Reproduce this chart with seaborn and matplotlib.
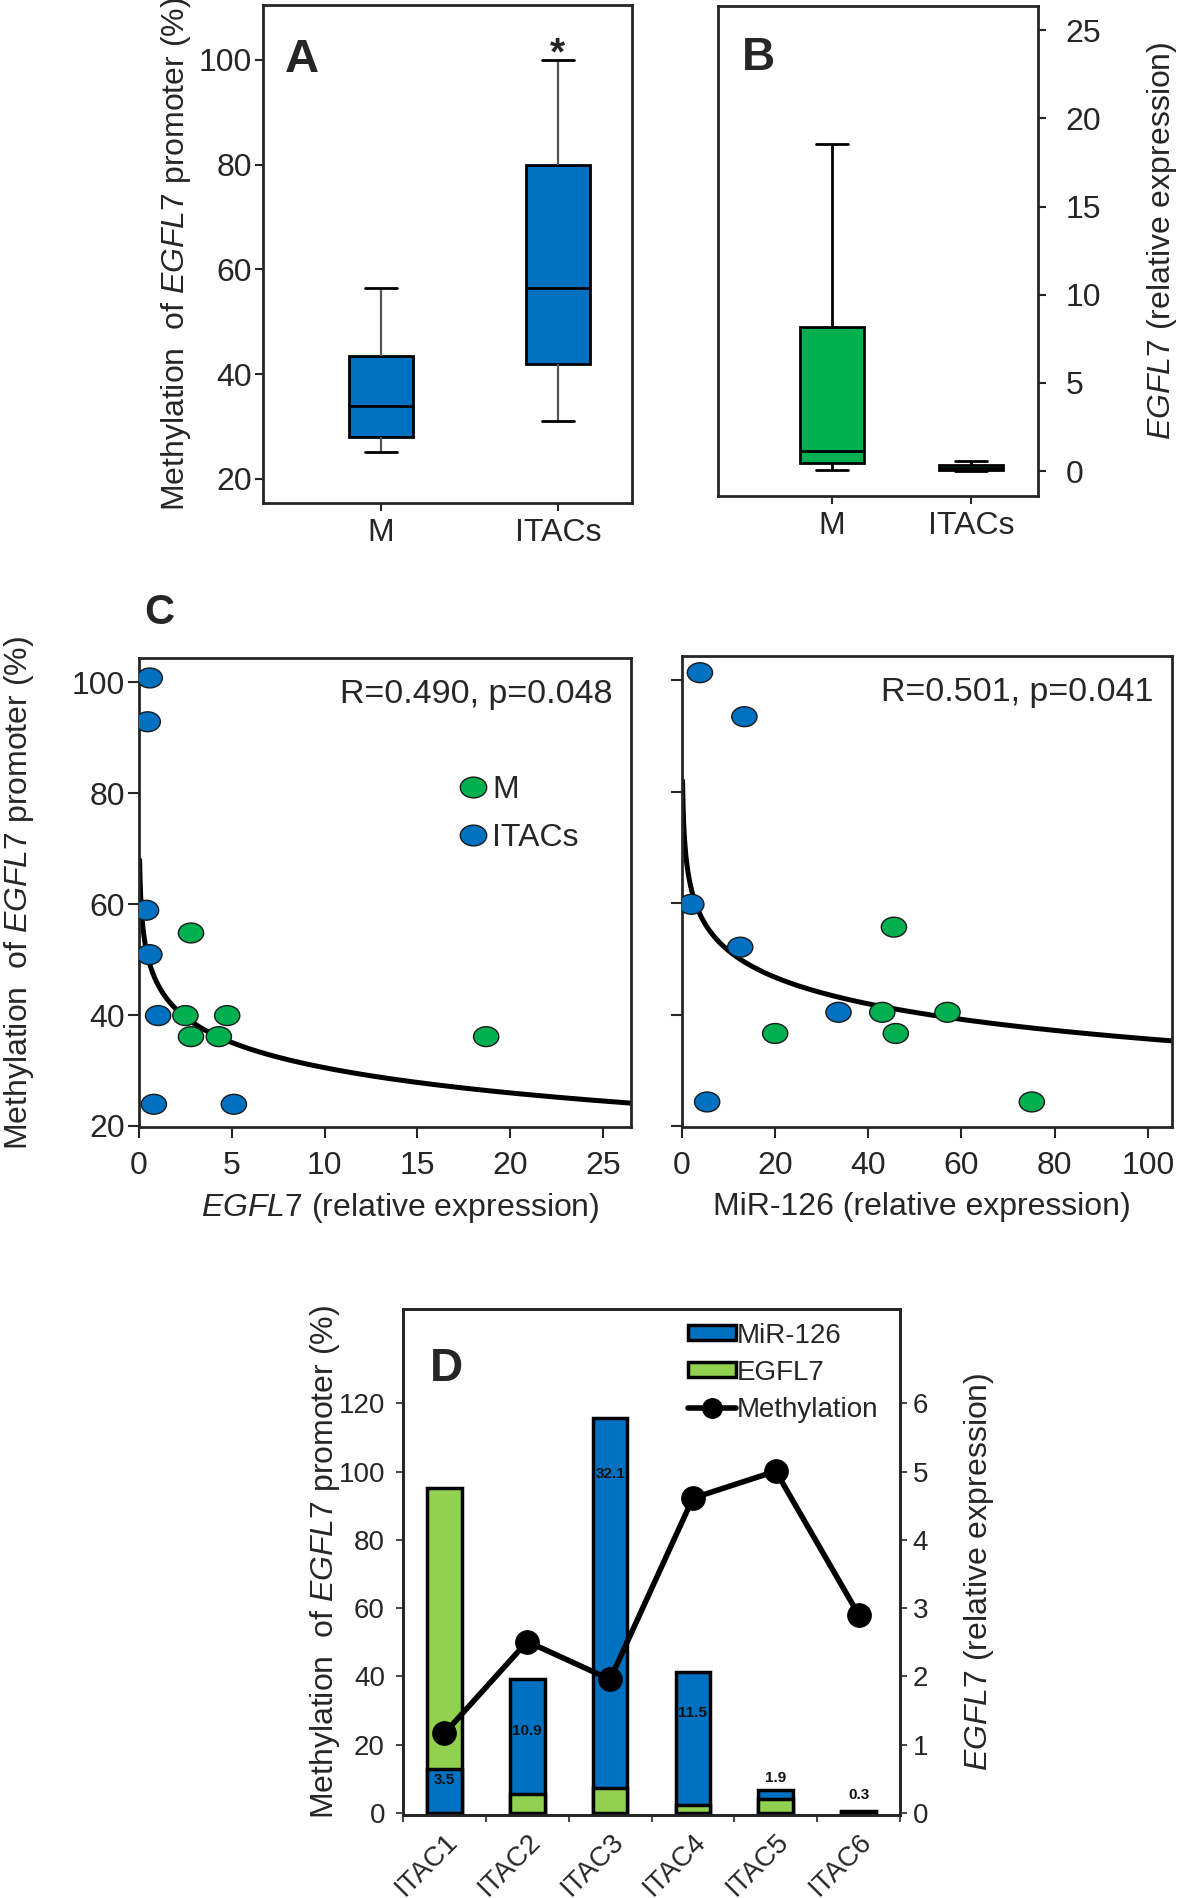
"""
EGFL7 methylation / expression figure (panels A-D).
Box plots of promoter methylation and expression, scatter plots with
log fits, and per-sample bars with methylation line.
"""

import numpy as np
import pandas as pd
import matplotlib
matplotlib.use("Agg")
import matplotlib.pyplot as plt
import seaborn as sns
from matplotlib.path import Path
from matplotlib.transforms import Affine2D
from matplotlib.lines import Line2D
from matplotlib.patches import Patch

W, H = 1181, 1898
DPI = 100

BLUE        = "#0070C0"
GREEN       = "#00B050"
LIGHT_GREEN = "#92D050"

# ── Panel A / B: five-number summaries (min, Q1, median, Q3, max) ────────────
GROUPS      = ["M", "ITACs"]
METH_M      = [25.1, 28.0, 34.0, 43.5, 56.4]
METH_ITACS  = [31.1, 42.0, 56.4, 79.9, 100.0]
EXPR_M      = [0.08, 0.44, 1.15, 8.17, 18.55]
EXPR_ITACS  = [0.0, 0.06, 0.15, 0.32, 0.55]

# ── Panel C: scatter values ──────────────────────────────────────────────────
EGFL7_M        = [2.8, 2.5, 4.75, 2.8, 4.3, 18.7]
METH_C1_M      = [54.8, 39.9, 39.9, 36.1, 36.1, 36.1]
EGFL7_ITACS    = [0.58, 0.47, 0.38, 0.56, 1.03, 0.80, 5.11]
METH_C1_ITACS  = [100.8, 92.9, 58.9, 50.9, 39.9, 23.9, 23.9]
MIR_M          = [45.5, 43.0, 57.0, 20.0, 45.9, 75.1]
METH_C2_M      = [55.7, 40.4, 40.4, 36.6, 36.6, 24.3]
MIR_ITACS      = [3.85, 13.4, 2.0, 12.5, 33.6, 5.4]
METH_C2_ITACS  = [101.4, 93.5, 59.8, 52.1, 40.4, 24.3]

# logarithmic fits y = a + b*ln(x)
FIT_EGFL7       = (45.6, -6.56)
FIT_EGFL7_RANGE = (0.033, 26.5)
FIT_MIR         = (67.3, -6.88)
FIT_MIR_RANGE   = (0.118, 105.0)

# ── Panel D: per-sample values ───────────────────────────────────────────────
ITACS         = ["ITAC1", "ITAC2", "ITAC3", "ITAC4", "ITAC5", "ITAC6"]
MIR126_D      = [0.65, 1.96, 5.78, 2.06, 0.34, 0.03]
EGFL7_D       = [4.76, 0.28, 0.36, 0.12, 0.20, 0.01]
MIR126_LABELS = ["3.5", "10.9", "32.1", "11.5", "1.9", "0.3"]
METH_D        = [23.3, 50.2, 39.1, 92.2, 100.1, 58.1]
LABEL_Y       = [0.48, 1.20, 4.96, 1.46, 0.51, 0.27]

METH_LABEL = r"Methylation  of $\mathit{EGFL7}$ promoter (%)"
EXPR_LABEL = r"$\mathit{EGFL7}$ (relative expression)"

FS = 23

ELLIPSE = Path.unit_circle().transformed(Affine2D().scale(1.27, 1.0))


def px_axes(fig, l, t, r, b):
    return fig.add_axes([l / W, 1 - b / H, (r - l) / W, (b - t) / H])


def five_num_frame(a, b):
    return pd.DataFrame({"group": ["M"] * len(a) + ["ITACs"] * len(b),
                         "value": list(a) + list(b)})


def style_ticks(ax, size=FS, length=6, pad=3):
    ax.tick_params(direction="out", length=length, width=1.5,
                   labelsize=size, pad=pad)
    for s in ax.spines.values():
        s.set_linewidth(2)


sns.set_style("ticks")
plt.rcParams["font.family"] = ["Liberation Sans", "DejaVu Sans"]
plt.rcParams["mathtext.fontset"] = "custom"
plt.rcParams["mathtext.rm"] = "Liberation Sans"
plt.rcParams["mathtext.it"] = "Liberation Sans:italic"

fig = plt.figure(figsize=(W / DPI, H / DPI), dpi=DPI)

# ── A ────────────────────────────────────────────────────────────────────────
ax_a = px_axes(fig, 263, 5, 632, 503)
sns.boxplot(data=five_num_frame(METH_M, METH_ITACS), x="group", y="value",
            order=GROUPS, color=BLUE, saturation=1, width=0.36,
            whis=(0, 100), linecolor="black", linewidth=2, ax=ax_a,
            whiskerprops=dict(color="#555555", linewidth=1.6))
ax_a.set_xlim(-0.664, 1.418)
ax_a.set_ylim(15.4, 110.5)
ax_a.set_yticks([20, 40, 60, 80, 100])
ax_a.set_xlabel("")
ax_a.set_ylabel(METH_LABEL, fontsize=FS)
ax_a.yaxis.set_label_coords(-0.19, 0.5)
style_ticks(ax_a, pad=2)
ax_a.tick_params(axis="x", pad=5)
ax_a.text(1, 101.0, "*", ha="center", va="center", fontsize=28, fontweight="bold")

# ── B ────────────────────────────────────────────────────────────────────────
ax_b = px_axes(fig, 718, 6, 1038, 496)
sns.boxplot(data=five_num_frame(EXPR_M, EXPR_ITACS), x="group", y="value",
            order=GROUPS, color=GREEN, saturation=1, width=0.46,
            whis=(0, 100), linecolor="black", linewidth=2, ax=ax_b)
ax_b.set_xlim(-0.817, 1.478)
ax_b.set_ylim(-1.41, 26.37)
ax_b.set_yticks([0, 5, 10, 15, 20, 25])
ax_b.yaxis.tick_right()
ax_b.yaxis.set_label_position("right")
ax_b.set_xlabel("")
ax_b.set_ylabel(EXPR_LABEL, fontsize=FS)
ax_b.yaxis.set_label_coords(1.335, 0.52)
style_ticks(ax_b, pad=5)
ax_b.tick_params(axis="y", pad=14)

# ── C (two scatter panels) ───────────────────────────────────────────────────
def scatter_panel(ax, xm, ym, xi, yi, fit, fit_range, annot):
    df = pd.DataFrame({"x": list(xm) + list(xi), "y": list(ym) + list(yi),
                       "group": ["M"] * len(xm) + ["ITACs"] * len(xi)})
    xs = np.geomspace(*fit_range, 400)
    ys = fit[0] + fit[1] * np.log(xs)
    sns.lineplot(x=xs, y=ys, color="black", linewidth=3.6, sort=False,
                 estimator=None, ax=ax, zorder=2)
    sns.scatterplot(data=df, x="x", y="y", hue="group", hue_order=GROUPS,
                    palette={"M": GREEN, "ITACs": BLUE}, marker=ELLIPSE,
                    s=330, edgecolor="#1a1a1a", linewidth=1, legend=False,
                    ax=ax, zorder=3)
    ax.set_ylim(19.8, 104.4)
    ax.set_yticks([20, 40, 60, 80, 100])
    ax.set_xlabel("")
    ax.set_ylabel("")
    style_ticks(ax, length=8, pad=2)
    ax.tick_params(axis="x", pad=9)
    ax.text(0.963, 0.905, annot, transform=ax.transAxes, ha="right",
            va="baseline", fontsize=24.5)


ax_c1 = px_axes(fig, 139, 658, 631, 1127)
scatter_panel(ax_c1, EGFL7_M, METH_C1_M, EGFL7_ITACS, METH_C1_ITACS,
              FIT_EGFL7, FIT_EGFL7_RANGE, "R=0.490, p=0.048")
ax_c1.set_xlim(0, 26.5)
ax_c1.set_xticks([0, 5, 10, 15, 20, 25])
ax_c1.set_ylabel(METH_LABEL, fontsize=FS)
ax_c1.yaxis.set_label_coords(-0.21, 0.5)
ax_c1.set_xlabel(EXPR_LABEL, fontsize=FS)
ax_c1.xaxis.set_label_coords(0.53, -0.137)
leg_handles = [
    Line2D([], [], linestyle="none", marker=ELLIPSE, markersize=19,
           markerfacecolor=c, markeredgecolor="#1a1a1a", markeredgewidth=1)
    for c in (GREEN, BLUE)
]
ax_c1.legend(leg_handles, GROUPS, loc="upper left", bbox_to_anchor=(0.62, 0.777),
             frameon=False, fontsize=FS, handlelength=1.0, handletextpad=0.1,
             labelspacing=0.55, borderaxespad=0)

ax_c2 = px_axes(fig, 682, 656, 1172, 1127)
scatter_panel(ax_c2, MIR_M, METH_C2_M, MIR_ITACS, METH_C2_ITACS,
              FIT_MIR, FIT_MIR_RANGE, "R=0.501, p=0.041")
ax_c2.set_xlim(0, 105.2)
ax_c2.set_xticks([0, 20, 40, 60, 80, 100])
ax_c2.set_yticklabels([])
ax_c2.set_xlabel("MiR-126 (relative expression)", fontsize=FS)
ax_c2.xaxis.set_label_coords(0.49, -0.137)

# ── D ────────────────────────────────────────────────────────────────────────
ax_d = px_axes(fig, 403, 1309, 900, 1815)
ax_d2 = ax_d.twinx()
sns.barplot(x=ITACS, y=MIR126_D, color=BLUE, saturation=1, width=0.42,
            edgecolor="black", linewidth=2.5, errorbar=None, ax=ax_d2)
sns.barplot(x=ITACS, y=EGFL7_D, color=LIGHT_GREEN, saturation=1, width=0.42,
            edgecolor="black", linewidth=2.5, errorbar=None, ax=ax_d2)
n = len(ITACS)
blue_bars, green_bars = ax_d2.patches[:n], ax_d2.patches[n:2 * n]
for bb, gb in zip(blue_bars, green_bars):
    # the shorter bar of each pair sits in front
    if bb.get_height() < gb.get_height():
        bb.set_zorder(3); gb.set_zorder(2)
    else:
        gb.set_zorder(3); bb.set_zorder(2)
for i, lab in enumerate(MIR126_LABELS):
    ax_d2.text(i, LABEL_Y[i], lab, ha="center", va="center", fontsize=11,
               fontweight="bold", color="#111111", zorder=5)

sns.lineplot(x=np.arange(n), y=METH_D, color="black", linewidth=4,
             marker="o", markersize=17, markeredgecolor="black", ax=ax_d)

ax_d.set_zorder(ax_d2.get_zorder() + 1)
ax_d.patch.set_visible(False)

ax_d.set_ylim(-0.6, 147.6)
ax_d2.set_ylim(-0.03, 7.38)
ax_d.set_yticks([0, 20, 40, 60, 80, 100, 120])
ax_d2.set_yticks([0, 1, 2, 3, 4, 5, 6])
ax_d.set_xlim(-0.5, n - 0.5)
ax_d.set_xticks(np.arange(-0.5, n, 1.0))
ax_d.set_xticklabels([])
ax_d.set_xticks(np.arange(n), minor=True)
ax_d.set_xticklabels(ITACS, minor=True, rotation=45, ha="right",
                     rotation_mode="anchor", fontsize=20)
ax_d.tick_params(axis="x", which="minor", length=0, pad=10)
ax_d.tick_params(axis="x", which="major", direction="out", length=5, width=1.2)
ax_d.tick_params(axis="y", direction="out", length=5, width=1.2,
                 labelsize=20, pad=8)
ax_d2.tick_params(axis="y", direction="out", length=5, width=1.2,
                  labelsize=20, pad=4)
for s in list(ax_d.spines.values()) + list(ax_d2.spines.values()):
    s.set_linewidth(2)
ax_d.set_xlabel("")
ax_d2.set_xlabel("")
ax_d.set_ylabel(METH_LABEL, fontsize=FS)
ax_d.yaxis.set_label_coords(-0.123, 0.5)
ax_d2.set_ylabel(EXPR_LABEL, fontsize=FS)
ax_d2.yaxis.set_label_coords(1.125, 0.48)

d_handles = [
    Patch(facecolor=BLUE, edgecolor="black", linewidth=2.5),
    Patch(facecolor=LIGHT_GREEN, edgecolor="black", linewidth=2.5),
    Line2D([], [], color="black", linewidth=4, marker="o", markersize=14),
]
ax_d.legend(d_handles, ["MiR-126", "EGFL7", "Methylation"], loc="upper left",
            bbox_to_anchor=(0.552, 0.995), frameon=False, fontsize=20,
            handlelength=1.7, handleheight=0.45, handletextpad=0.05,
            labelspacing=0.4, borderaxespad=0)

# ── panel letters ────────────────────────────────────────────────────────────
for letter, x, y, size in [("A", 285, 72, 34), ("B", 742, 70, 33),
                           ("C", 144, 624, 30), ("D", 430, 1381, 33)]:
    fig.text(x / W, 1 - y / H, letter, fontsize=size, fontweight="bold",
             ha="left", va="baseline")

fig.savefig("out.png", dpi=DPI)
plt.close(fig)
